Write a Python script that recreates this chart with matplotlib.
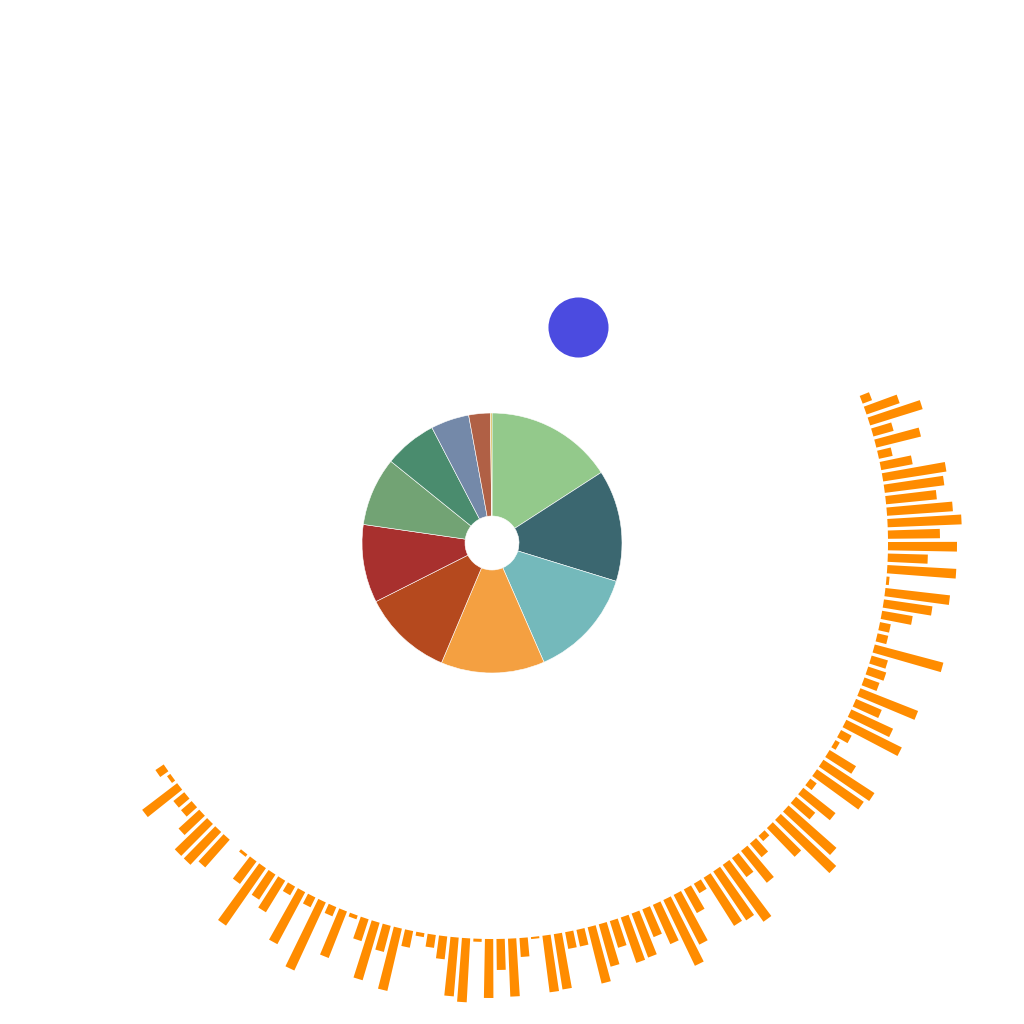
import numpy as np
import matplotlib
matplotlib.use("Agg")
import matplotlib.pyplot as plt

# donut slices (clockwise from 12 o'clock)
pie_values = [160, 140, 138, 130, 113, 98, 86, 66, 48, 27, 2]
pie_colors = ['#93c98b', '#3b6770', '#74b9bb', '#f4a041', '#b5491e', '#a8302e',
              '#72a374', '#4a8c6e', '#7489a9', '#b06045', '#d9b84a']

# radial bars, clockwise from upper right
bar_values = [10, 35, 55, 21, 46, 14, 32, 64, 60, 51,
              66, 74, 52, 69, 40, 69, 3, 65, 49, 31,
              11, 11, 71, 17, 19, 16, 62, 28, 46, 62,
              12, 5, 31, 61, 57, 8, 41, 25, 64, 76,
              40, 7, 18, 41, 24, 70, 59, 57, 11, 27,
              56, 73, 43, 30, 47, 48, 28, 44, 58, 17,
              17, 56, 57, 2, 19, 58, 31, 59, 3, 64,
              59, 23, 13, 4, 17, 64, 27, 60, 23, 4,
              50, 10, 75, 11, 59, 10, 37, 30, 70, 28,
              3, 0, 37, 45, 45, 28, 14, 14, 44, 4,
              10]

# lone scatter point (pixel space)
point_x = [578]
point_y = [327]

fig = plt.figure(figsize=(10.24, 10.24), dpi=100)

# background axes in pixel coords for the scatter dot
bg = fig.add_axes([0, 0, 1, 1])
bg.set_xlim(0, 1024)
bg.set_ylim(1024, 0)
bg.axis('off')
bg.scatter(point_x, point_y, s=1870, color='#4b4be0', linewidths=0)

# polar bars
cx, cy = 492, 543
R = 480
pax = fig.add_axes([(cx - R) / 1024, (1024 - cy - R) / 1024, 2 * R / 1024, 2 * R / 1024],
                   projection='polar')
pax.set_theta_direction(-1)
pax.set_theta_offset(np.deg2rad(21.2))
step = np.deg2rad(1.666)
idx = np.arange(len(bar_values))
pax.bar(idx * step, bar_values, width=step * 0.72, bottom=396, color='#ff8c00', linewidth=0)
pax.set_ylim(0, R)
pax.set_axis_off()

# donut
pr = 130
dax = fig.add_axes([(cx - pr) / 1024, (1024 - cy - pr) / 1024, 2 * pr / 1024, 2 * pr / 1024])
dax.pie(pie_values, colors=pie_colors, startangle=90, counterclock=False, radius=1,
        wedgeprops=dict(width=1 - 27 / 130, edgecolor='white', linewidth=0.4))
dax.set_xlim(-1, 1)
dax.set_ylim(-1, 1)

fig.savefig('out.png', dpi=100)
